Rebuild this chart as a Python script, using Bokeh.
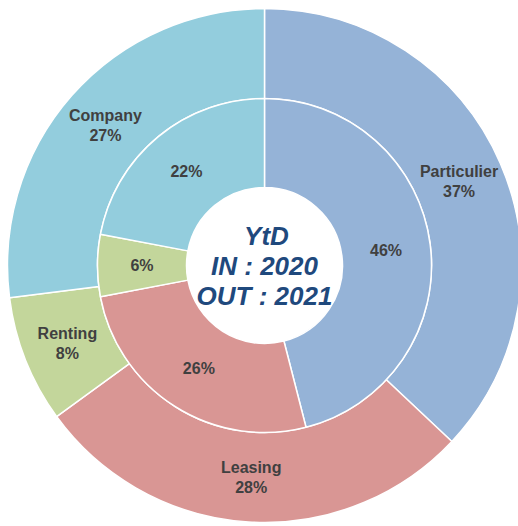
import math
from bokeh.plotting import figure
from bokeh.models import Range1d, ColumnDataSource
from bokeh.core.properties import value
from bokeh.embed import file_html
from bokeh.resources import INLINE

categories = ["Particulier", "Leasing", "Renting", "Company"]
outer_values = [37, 28, 8, 27]   # OUT : 2021
inner_values = [46, 26, 6, 22]   # IN : 2020
colors = ["#95B3D7", "#D99694", "#C3D69B", "#93CDDD"]
center_lines = ["YtD", "IN : 2020", "OUT : 2021"]

R_HOLE, R_MID, R_OUT = 78, 167, 257

p = figure(width=518, height=526, output_backend="svg", toolbar_location=None,
           x_range=Range1d(-264, 254), y_range=Range1d(-261, 265),
           min_border=0, match_aspect=False)
p.axis.visible = False
p.grid.visible = False
p.outline_line_color = None
p.background_fill_color = "white"
p.border_fill_color = "white"


def ring(values, r0, r1):
    total = float(sum(values))
    starts, ends, lx, ly = [], [], [], []
    c = 0.0
    for v in values:
        a0 = math.pi / 2 - 2 * math.pi * c / total
        c += v
        a1 = math.pi / 2 - 2 * math.pi * c / total
        starts.append(a0)
        ends.append(a1)
        mid = (a0 + a1) / 2
        rm = (r0 + r1) / 2
        lx.append(rm * math.cos(mid))
        ly.append(rm * math.sin(mid))
    return starts, ends, lx, ly


os_, oe, olx, oly = ring(outer_values, R_MID, R_OUT)
is_, ie, ilx, ily = ring(inner_values, R_HOLE, R_MID)

src_o = ColumnDataSource(dict(start=os_, end=oe, color=colors))
src_i = ColumnDataSource(dict(start=is_, end=ie, color=colors))

p.annular_wedge(x=0, y=0, inner_radius=R_MID, outer_radius=R_OUT,
                start_angle="start", end_angle="end", direction="clock",
                fill_color="color", line_color="white", line_width=1.5, source=src_o)
p.annular_wedge(x=0, y=0, inner_radius=R_HOLE, outer_radius=R_MID,
                start_angle="start", end_angle="end", direction="clock",
                fill_color="color", line_color="white", line_width=1.5, source=src_i)

font = value("Liberation Sans")
# outer labels: name + percent
p.text(x=olx, y=[y + 10 for y in oly], text=categories, text_font=font,
       text_font_style="bold", text_font_size="16px", text_color="#404040",
       text_align="center", text_baseline="middle")
p.text(x=olx, y=[y - 10 for y in oly], text=[f"{v}%" for v in outer_values],
       text_font=font, text_font_style="bold", text_font_size="16px",
       text_color="#404040", text_align="center", text_baseline="middle")
# inner labels
p.text(x=ilx, y=ily, text=[f"{v}%" for v in inner_values], text_font=font,
       text_font_style="bold", text_font_size="16px", text_color="#404040",
       text_align="center", text_baseline="middle")

# center text
p.text(x=[2, 0, 0], y=[30, 0, -30], text=center_lines, text_font=font,
       text_font_style="bold italic", text_font_size="26px", text_color="#1F497D",
       text_align="center", text_baseline="middle")

open("out.html", "w").write(file_html(p, INLINE))
